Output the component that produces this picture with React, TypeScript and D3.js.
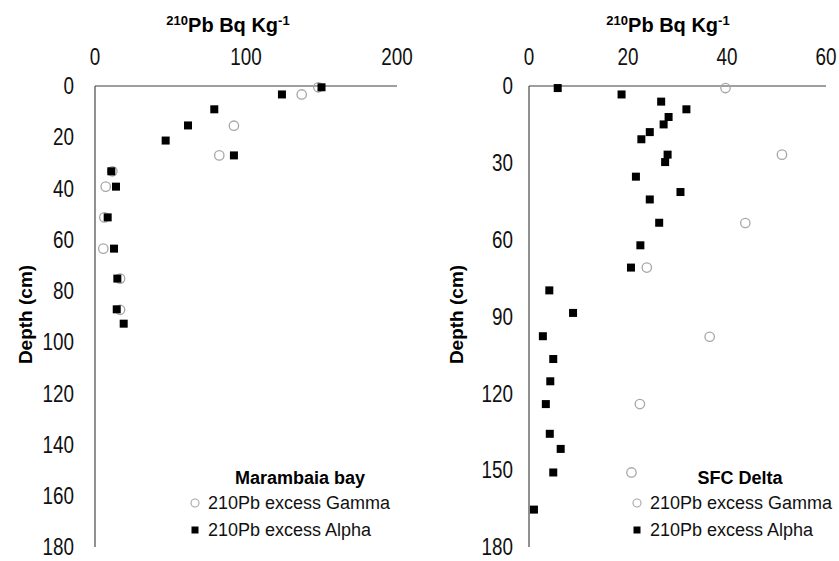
import * as d3 from "d3";

// Marambaia bay
const marGammaPb = [147.9, 136.9, 92, 82.3, 11.5, 7.1, 6.2, 5.5, 16.6, 16.6];
const marGammaDepth = [0.5, 3.3, 15.5, 27.1, 33.3, 39.3, 51.3, 63.5, 75.2, 87.4];
const marAlphaPb = [150, 123.8, 79, 61.6, 46.8, 92, 10.8, 13.9, 8.4, 12.6, 14.8, 14.4, 19];
const marAlphaDepth = [0.5, 3.3, 9.1, 15.4, 21.3, 27.1, 33.3, 39.3, 51.3, 63.5, 75.2, 87.2, 92.8];

// SFC Delta
const sfcGammaPb = [39.7, 51.1, 43.7, 23.8, 36.5, 22.4, 20.7];
const sfcGammaDepth = [0.8, 26.8, 53.5, 70.9, 97.9, 124.2, 150.9];
const sfcAlphaPb = [
  5.8, 18.7, 26.7, 31.8, 28.2, 27.2, 24.4, 22.7, 28, 27.5, 21.6, 30.6, 24.4,
  26.3, 22.5, 20.6, 4.1, 8.9, 2.8, 4.9, 4.3, 3.4, 4.2, 6.4, 4.9, 1.0,
];
const sfcAlphaDepth = [
  0.8, 3.3, 6.1, 9.1, 12.1, 15, 18, 20.8, 26.8, 29.7, 35.4, 41.4, 44.3, 53.4,
  62.2, 70.9, 79.8, 88.6, 97.7, 106.6, 115.3, 124.2, 135.8, 141.7, 150.9, 165.4,
];

const marXTicks = [0, 100, 200];
const marYTicks = [0, 20, 40, 60, 80, 100, 120, 140, 160, 180];
const sfcXTicks = [0, 20, 40, 60];
const sfcYTicks = [0, 30, 60, 90, 120, 150, 180];

const gammaLabel = "210Pb excess Gamma";
const alphaLabel = "210Pb excess Alpha";

const font = "'Liberation Sans', Arial, sans-serif";
const axisColor = "#7f7f7f";

interface PanelProps {
  x0: number;
  x1: number;
  xMax: number;
  xTicks: number[];
  yTicks: number[];
  gammaPb: number[];
  gammaDepth: number[];
  alphaPb: number[];
  alphaDepth: number[];
  site: string;
  siteX: number;
  titleX: number;
  legendX: number;
  yLabelX: number;
  tickGap: number;
}

// condensed tick label (the original uses a narrow face)
function Tick({ x, y, anchor, label }: { x: number; y: number; anchor: string; label: number }) {
  return (
    <text transform={`translate(${x},${y}) scale(0.82,1)`} textAnchor={anchor}
      dominantBaseline="central" fontFamily={font} fontSize={23} fill="#111">
      {label}
    </text>
  );
}

function Panel(p: PanelProps) {
  const x = d3.scaleLinear().domain([0, p.xMax]).range([p.x0, p.x1]);
  const y = d3.scaleLinear().domain([0, 180]).range([86, 547]);
  const [yTop, yBot] = y.range();

  return (
    <g>
      {/* title */}
      <text x={p.titleX} y={32} textAnchor="middle" fontFamily={font} fontWeight="bold" fontSize={20}>
        <tspan fontSize={13} dy={-7}>210</tspan>
        <tspan dy={7}>Pb Bq Kg</tspan>
        <tspan fontSize={13} dy={-7}>-1</tspan>
      </text>

      {p.xTicks.map((t) => (
        <Tick key={"x" + t} x={x(t)} y={57} anchor="middle" label={t} />
      ))}
      {p.yTicks.map((t) => (
        <Tick key={"y" + t} x={p.x0 - p.tickGap} y={y(t)} anchor="end" label={t} />
      ))}

      {/* axes */}
      <line x1={p.x0} x2={p.x1} y1={yTop} y2={yTop} stroke={axisColor} strokeWidth={1.3} />
      <line x1={p.x0} x2={p.x0} y1={yTop} y2={yBot} stroke="#555" strokeWidth={1.3} />

      <text transform={`translate(${p.yLabelX},${(yTop + yBot) / 2 - 2}) rotate(-90)`}
        textAnchor="middle" dominantBaseline="central" fontFamily={font} fontWeight="bold" fontSize={19}>
        Depth (cm)
      </text>

      {p.gammaPb.map((v, i) => (
        <circle key={"g" + i} cx={x(v)} cy={y(p.gammaDepth[i])} r={4.7}
          fill="none" stroke="#a6a6a6" strokeWidth={1.3} />
      ))}
      {p.alphaPb.map((v, i) => (
        <rect key={"a" + i} x={x(v) - 4} y={y(p.alphaDepth[i]) - 4} width={8} height={8} fill="#000" />
      ))}

      {/* legend */}
      <text x={p.siteX} y={478} textAnchor="middle" dominantBaseline="central"
        fontFamily={font} fontWeight="bold" fontSize={18}>
        {p.site}
      </text>
      <circle cx={p.legendX} cy={503} r={4} fill="none" stroke="#a6a6a6" strokeWidth={1.1} />
      <text x={p.legendX + 13} y={503} dominantBaseline="central" fontFamily={font} fontSize={18} fill="#111">
        {gammaLabel}
      </text>
      <rect x={p.legendX - 3.5} y={530 - 3.5} width={7} height={7} fill="#000" />
      <text x={p.legendX + 13} y={530} dominantBaseline="central" fontFamily={font} fontSize={18} fill="#111">
        {alphaLabel}
      </text>
    </g>
  );
}

export default function App() {
  return (
    <svg width={839} height={561} style={{ position: "absolute", left: 0, top: 0, background: "#fff" }}>
      <rect width={839} height={561} fill="#fff" />
      <Panel x0={95} x1={397} xMax={200} xTicks={marXTicks} yTicks={marYTicks}
        gammaPb={marGammaPb} gammaDepth={marGammaDepth} alphaPb={marAlphaPb} alphaDepth={marAlphaDepth}
        site="Marambaia bay" siteX={300} titleX={228} legendX={195} yLabelX={25} tickGap={21} />
      <Panel x0={529} x1={826} xMax={60} xTicks={sfcXTicks} yTicks={sfcYTicks}
        gammaPb={sfcGammaPb} gammaDepth={sfcGammaDepth} alphaPb={sfcAlphaPb} alphaDepth={sfcAlphaDepth}
        site="SFC Delta" siteX={740} titleX={668} legendX={637} yLabelX={456} tickGap={16} />
    </svg>
  );
}
